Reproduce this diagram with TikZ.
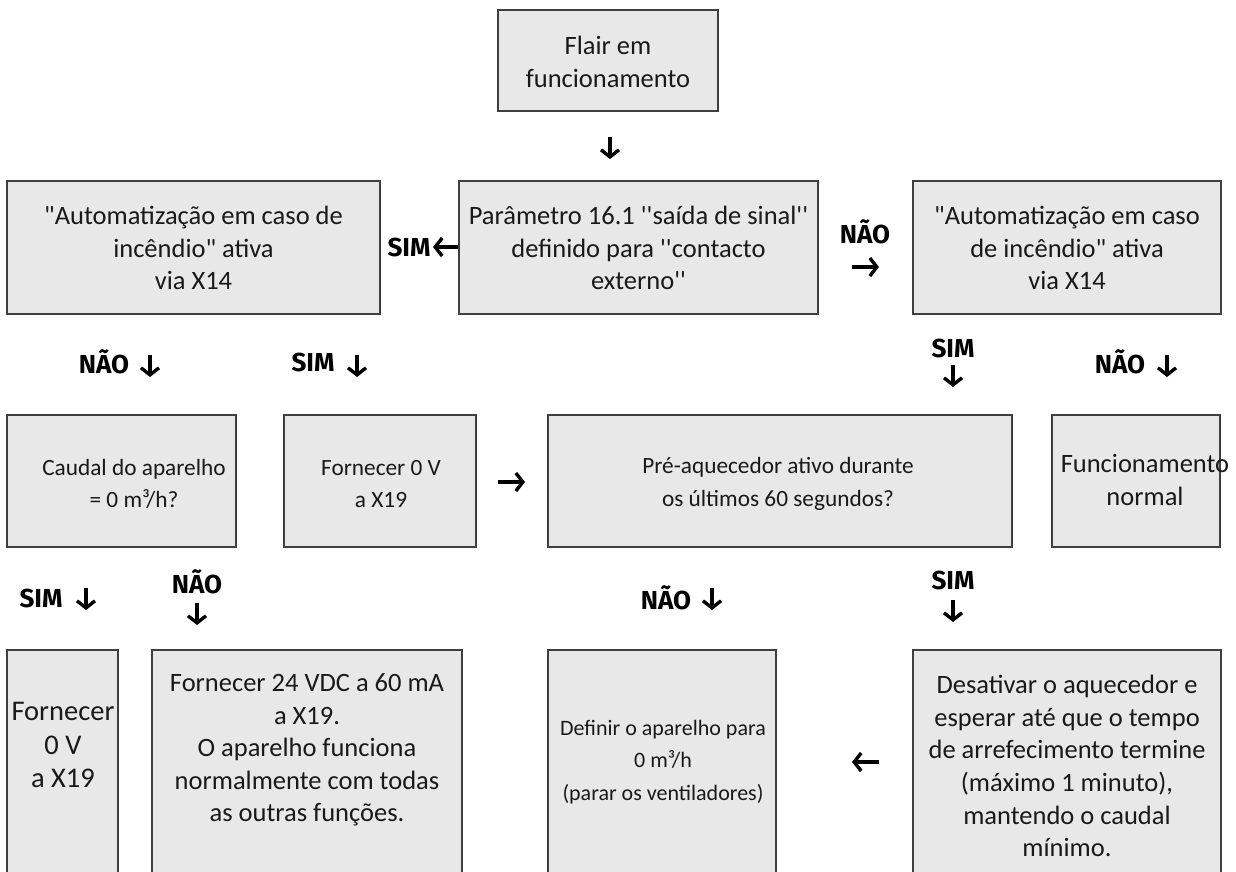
\documentclass[tikz,border=0pt]{standalone}
\usepackage{fontspec}
\usetikzlibrary{arrows.meta}
\newfontfamily\bodyfont{Carlito}
\newfontfamily\lblfont{Fira Sans}
\definecolor{boxfill}{HTML}{E8E8E8}
\definecolor{boxline}{HTML}{3F3F3F}
\tikzset{
  box/.style={draw=boxline, fill=boxfill, line width=1.4pt, inner sep=0pt},
  txt/.style={align=center, font=\bodyfont\fontsize{26.5}{32.6}\selectfont, inner sep=0pt, text=black!90},
  txtsm/.style={txt, font=\bodyfont\fontsize{23.3}{32.4}\selectfont},
  txtxs/.style={txt, font=\bodyfont\fontsize{22}{32.5}\selectfont},
  txtlg/.style={txt, font=\bodyfont\fontsize{28.5}{33.5}\selectfont},
  lbl/.style={font=\lblfont\bfseries\fontsize{26}{30}\selectfont, inner sep=0pt},
  arrw/.style={line width=3.4pt, -{Straight Barb[length=7pt,width=18pt]}},
}
\begin{document}
\begin{tikzpicture}[x=1pt,y=-1pt]
\useasboundingbox[fill=white] (0,0) rectangle (1236,872);
% boxes
\node[box, minimum width=220, minimum height=101] (top) at (608,60.5) {};
\node[box, minimum width=373, minimum height=133] (autoL) at (193.5,247.5) {};
\node[box, minimum width=359, minimum height=133] (param) at (638.5,247.5) {};
\node[box, minimum width=308, minimum height=133] (autoR) at (1067,247.5) {};
\node[box, minimum width=229, minimum height=132] (caudal) at (121.5,481) {};
\node[box, minimum width=192, minimum height=132] (forn1) at (380,481) {};
\node[box, minimum width=464, minimum height=132] (pre) at (780,481) {};
\node[box, minimum width=168, minimum height=132] (func) at (1136,481) {};
\node[box, minimum width=111, minimum height=250] (forn2) at (62.5,775) {};
\node[box, minimum width=310, minimum height=250] (forn24) at (307,775) {};
\node[box, minimum width=228, minimum height=250] (definir) at (662,775) {};
\node[box, minimum width=308, minimum height=250] (desat) at (1067,775) {};
% texts
\node[txt] at (608,62) {Flair em\\funcionamento};
\node[txt] at (193.5,248) {"Automatização em caso de\\incêndio" ativa\\via X14};
\node[txt] at (638.5,248) {Parâmetro 16.1 ''saída de sinal''\\definido para ''contacto\\externo''};
\node[txt] at (1067,248) {"Automatização em caso\\de incêndio" ativa\\via X14};
\node[txtsm] at (134,484) {Caudal do aparelho\\= 0 m³/h?};
\node[txtsm] at (381,484) {Fornecer 0 V\\a X19};
\node[txtsm] at (778,484) {Pré-aquecedor ativo durante\\os últimos 60 segundos?};
\node[txt] at (1145,480) {Funcionamento\\normal};
\node[txtlg] at (63,745) {Fornecer\\0 V\\a X19};
\node[txt] at (307,750) {Fornecer 24 VDC a 60 mA\\a X19.\\O aparelho funciona\\normalmente com todas\\as outras funções.};
\node[txtxs] at (663,762) {Definir o aparelho para\\0 m³/h\\(parar os ventiladores)};
\node[txt] at (1067,766) {Desativar o aquecedor e\\esperar até que o tempo\\de arrefecimento termine\\(máximo 1 minuto),\\mantendo o caudal\\mínimo.};
% labels
\node[lbl] (l1) at (409,247) {SIM};
\node[lbl] (l2) at (865,232) {NÃO};
\node[lbl] (l3) at (104,362) {NÃO};
\node[lbl] (l4) at (313,362) {SIM};
\node[lbl] (l5) at (953,348) {SIM};
\node[lbl] (l6) at (1120,362) {NÃO};
\node[lbl] (l7) at (41,598) {SIM};
\node[lbl] (l8) at (197,582) {NÃO};
\node[lbl] (l9) at (666,598) {NÃO};
\node[lbl] (l10) at (953,580) {SIM};
% arrow ends
\coordinate (a0s) at (610,137); \coordinate (a0e) at (610,159);
\coordinate (a1e) at (433,247);
\coordinate (a2s) at (852,267); \coordinate (a2e) at (879,267);
\coordinate (a3s) at (150,355); \coordinate (a3e) at (150,377);
\coordinate (a4s) at (357,355); \coordinate (a4e) at (357,377);
\coordinate (a5s) at (953,365); \coordinate (a5e) at (953,387);
\coordinate (a6s) at (1167,355); \coordinate (a6e) at (1167,377);
\coordinate (a7s) at (498,482); \coordinate (a7e) at (525,482);
\coordinate (a8s) at (86,588); \coordinate (a8e) at (86,610);
\coordinate (a9s) at (197,603); \coordinate (a9e) at (197,625);
\coordinate (a10s) at (712,588); \coordinate (a10e) at (712,610);
\coordinate (a11s) at (953,600); \coordinate (a11e) at (953,622);
\coordinate (a12s) at (879,762); \coordinate (a12e) at (852,762);
% arrows
\draw[arrw] (a0s) -- (a0e);
\draw[arrw] (param.west |- a1e) -- (a1e);
\draw[arrw] (a2s) -- (a2e);
\draw[arrw] (a3s) -- (a3e);
\draw[arrw] (a4s) -- (a4e);
\draw[arrw] (a5s) -- (a5e);
\draw[arrw] (a6s) -- (a6e);
\draw[arrw] (a7s) -- (a7e);
\draw[arrw] (a8s) -- (a8e);
\draw[arrw] (a9s) -- (a9e);
\draw[arrw] (a10s) -- (a10e);
\draw[arrw] (a11s) -- (a11e);
\draw[arrw] (a12s) -- (a12e);
\end{tikzpicture}
\end{document}
